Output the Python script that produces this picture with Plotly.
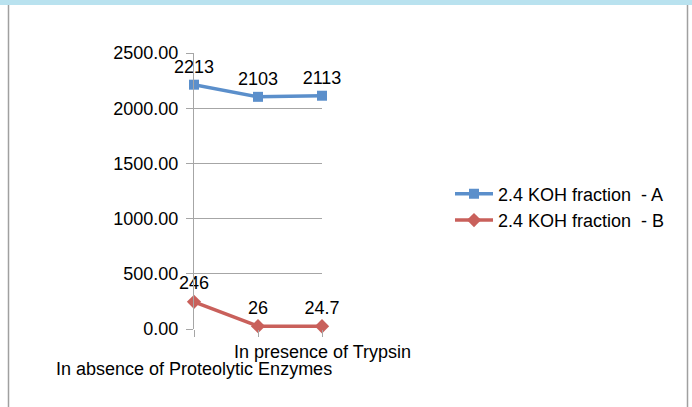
import plotly.graph_objects as go

categories = ["In absence of Proteolytic Enzymes", "", "In presence of Trypsin"]
series_a = [2213, 2103, 2113]
series_b = [246, 26, 24.7]
labels_a = ["2213", "2103", "2113"]
labels_b = ["246", "26", "24.7"]
name_a = "2.4 KOH fraction\u00a0 - A"
name_b = "2.4 KOH fraction\u00a0 - B"
y_ticks = [0, 500, 1000, 1500, 2000, 2500]
y_tick_text = ["0.00", "500.00", "1000.00", "1500.00", "2000.00", "2500.00"]

FONT = "Liberation Sans, Arial, sans-serif"
FS = 18
x = list(range(len(categories)))

# plot area in pixels
L, R, T, B = 194, 322, 53, 329
W, H = R - L, B - T

def px(xp):
    return (xp - L) / W

def py(yp):
    return (B - yp) / H

fig = go.Figure()
fig.add_trace(go.Scatter(
    x=x, y=series_a, name=name_a, mode="lines+markers+text",
    text=labels_a, textposition="top center",
    textfont=dict(size=FS, color="#000000", family=FONT),
    line=dict(color="#5B8FCB", width=3.5),
    marker=dict(symbol="square", size=10, color="#5B8FCB"),
    cliponaxis=False,
))
fig.add_trace(go.Scatter(
    x=x, y=series_b, name=name_b, mode="lines+markers+text",
    text=labels_b, textposition="top center",
    textfont=dict(size=FS, color="#000000", family=FONT),
    line=dict(color="#C9605B", width=3.5),
    marker=dict(symbol="diamond", size=11, color="#C9605B"),
    cliponaxis=False,
))

# category labels (Excel staggered them; middle one not shown)
cat_y = [369, None, 352]
annotations = []
for i, (c, yy) in enumerate(zip(categories, cat_y)):
    if c and yy is not None:
        annotations.append(dict(x=i, xref="x", y=py(yy), yref="paper", text=c,
                                showarrow=False, xanchor="center", yanchor="middle",
                                font=dict(size=FS, family=FONT, color="#000000")))

fig.update_layout(
    width=692, height=407,
    margin=dict(l=L, r=692 - R, t=T, b=407 - B, autoexpand=False),
    paper_bgcolor="white", plot_bgcolor="white",
    font=dict(family=FONT, size=FS, color="#000000"),
    showlegend=True,
    legend=dict(x=px(450), y=py(207), xanchor="left", yanchor="middle",
                font=dict(size=FS, family=FONT), bgcolor="rgba(0,0,0,0)",
                tracegroupgap=0, itemwidth=38),
    annotations=annotations,
    xaxis=dict(range=[0, 2], tickmode="array", tickvals=x, ticktext=["", "", ""],
               tickangle=0, automargin=False,
               showgrid=False, zeroline=False, showline=False,
               ticks="outside", ticklen=7, tickcolor="#A6A6A6", tickwidth=1),
    yaxis=dict(range=[0, 2500], tickmode="array", tickvals=y_ticks, ticktext=y_tick_text,
               automargin=False, ticklabelstandoff=4,
               showgrid=True, gridcolor="#A6A6A6", gridwidth=1,
               zeroline=False, showline=True, linecolor="#A6A6A6", linewidth=1,
               ticks="outside", ticklen=7, tickcolor="#A6A6A6", tickwidth=1,
               tickfont=dict(size=FS, family=FONT)),
    shapes=[
        dict(type="rect", xref="paper", yref="paper", x0=px(0), x1=px(692),
             y0=py(5), y1=py(0), fillcolor="#B9E2EF", line=dict(width=0), layer="below"),
        dict(type="line", xref="paper", yref="paper", x0=px(8.5), x1=px(8.5),
             y0=py(407), y1=py(5), line=dict(color="#A0A0A0", width=1.5)),
        dict(type="line", xref="paper", yref="paper", x0=px(687.5), x1=px(687.5),
             y0=py(407), y1=py(5), line=dict(color="#A0A0A0", width=1.5)),
    ],
)

fig.write_html("out.html", config={"displayModeBar": False},
               post_script="document.body.style.margin='0';document.body.style.padding='0';")
